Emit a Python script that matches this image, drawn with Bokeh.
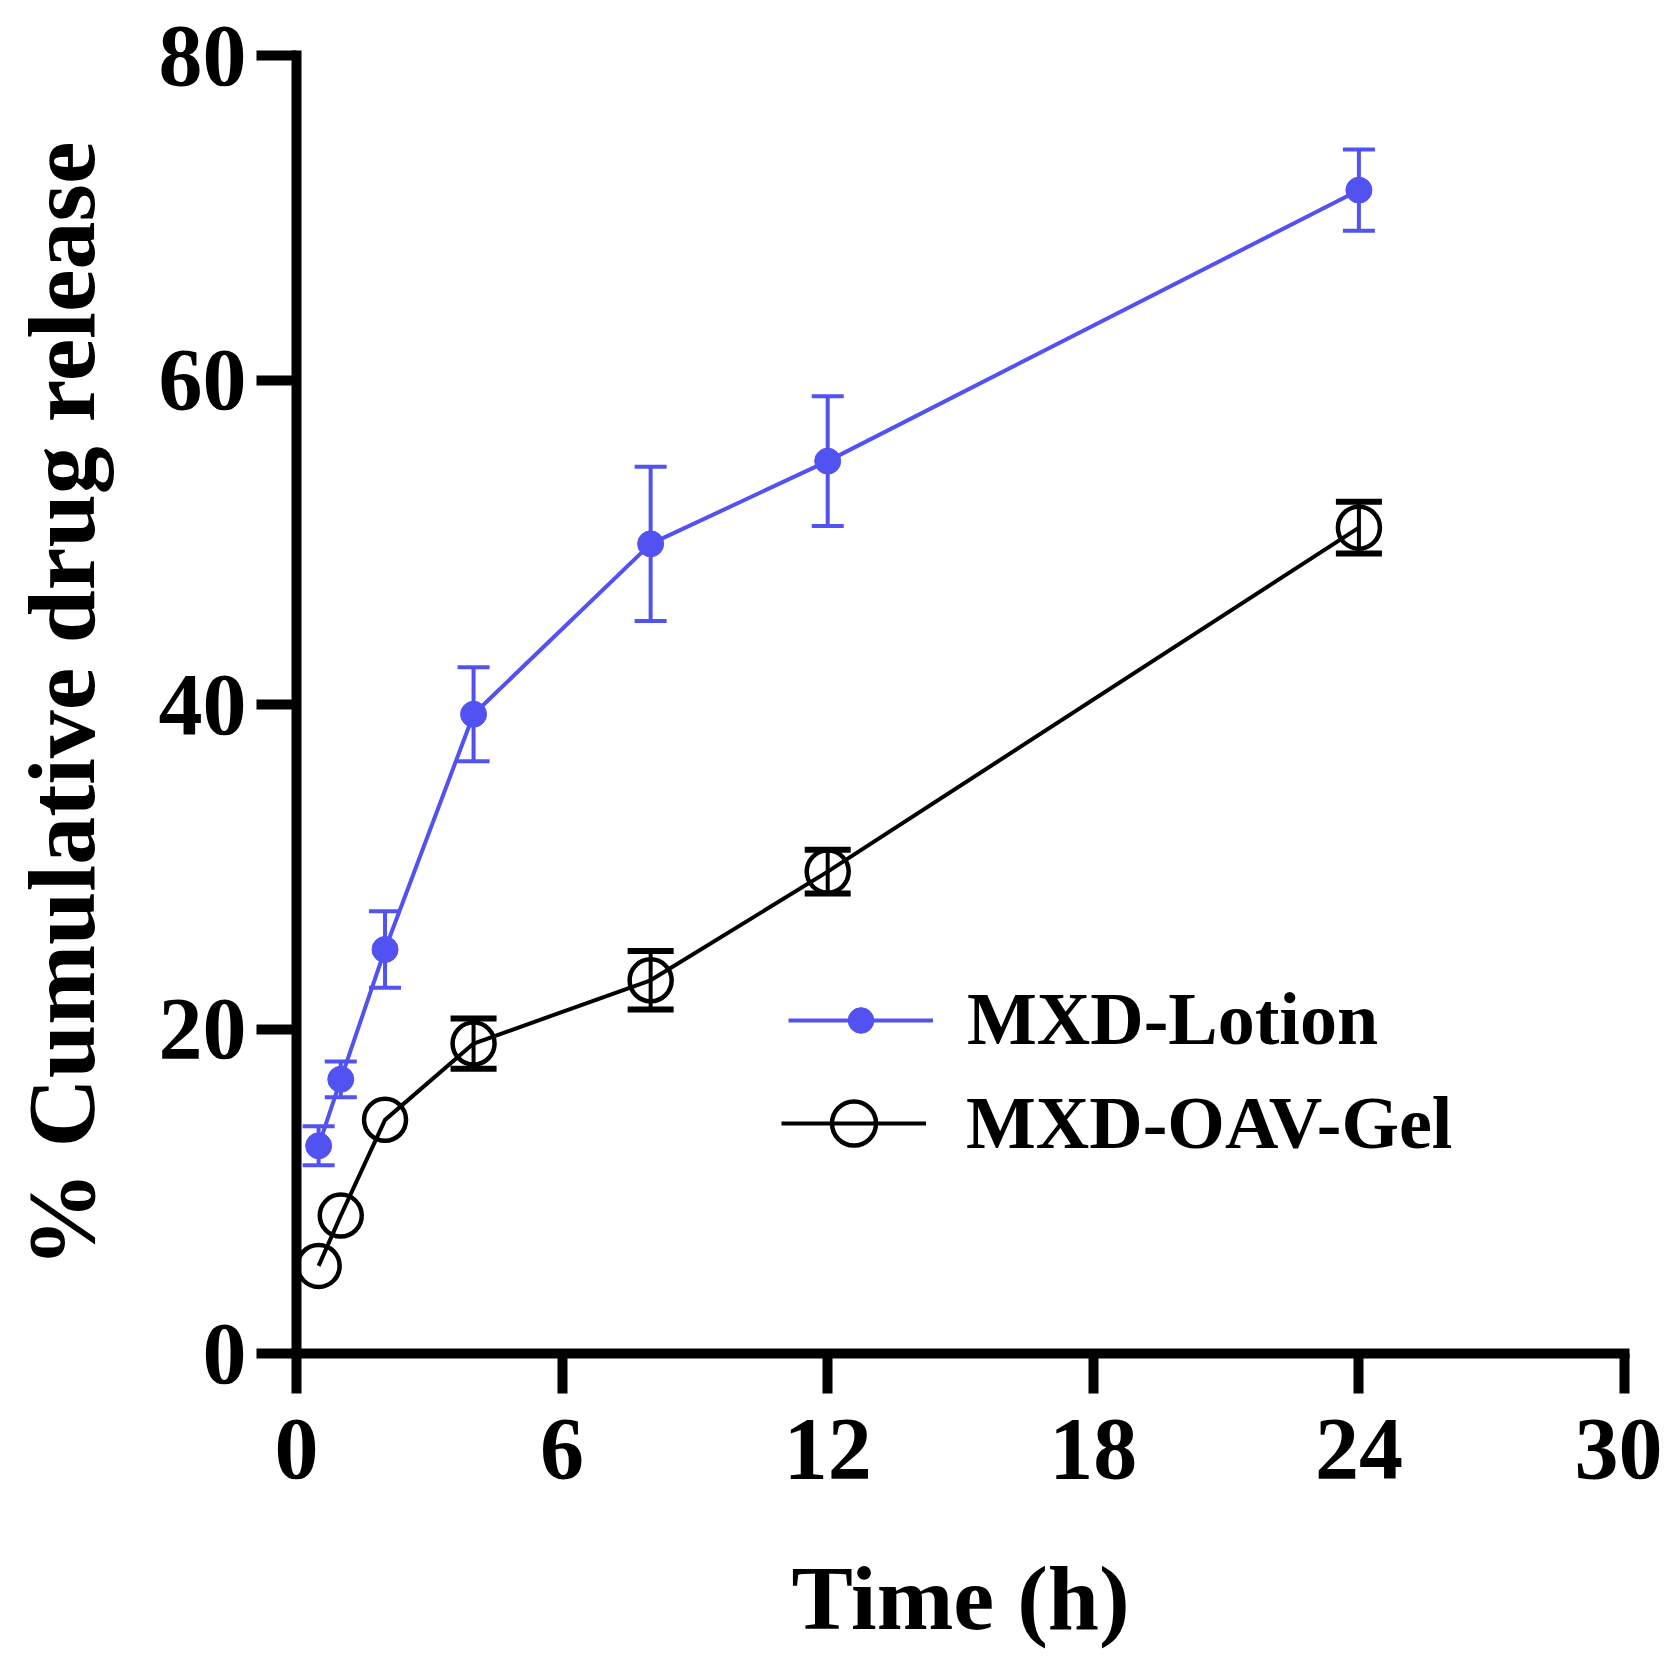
from bokeh.plotting import figure
from bokeh.models import ColumnDataSource, Whisker, TeeHead, Legend, LegendItem, FixedTicker, Range1d
from bokeh.embed import file_html
from bokeh.resources import INLINE

# ---- data ----
time_h = [0.5, 1, 2, 4, 8, 12, 24]
lotion_mean = [12.8, 16.9, 24.9, 39.4, 49.9, 55.0, 71.7]
lotion_err = [1.2, 1.1, 2.35, 2.9, 4.75, 4.0, 2.5]
gel_mean = [5.4, 8.5, 14.4, 19.1, 23.0, 29.7, 50.9]
gel_err = [0.0, 0.0, 0.0, 1.55, 1.8, 1.35, 1.6]
x_ticks = [0, 6, 12, 18, 24, 30]
y_ticks = [0, 20, 40, 60, 80]
series_names = ["MXD-Lotion", "MXD-OAV-Gel"]
x_label = "Time (h)"
y_label = "% Cumulative drug release"

BLUE = "#5252F2"
BLACK = "#000000"
FONT = "Liberation Serif"

def make_source(x, m, e, keep_zero=True):
    xs, ms, up, lo = [], [], [], []
    for a, b, c in zip(x, m, e):
        if not keep_zero and c <= 0:
            continue
        xs.append(a); ms.append(b); up.append(b + c); lo.append(b - c)
    return ColumnDataSource(dict(x=xs, y=ms, upper=up, lower=lo))

src_l = make_source(time_h, lotion_mean, lotion_err)
src_g = make_source(time_h, gel_mean, gel_err)
src_g_err = make_source(time_h, gel_mean, gel_err, keep_zero=False)

p = figure(frame_width=1328, frame_height=1298,
           min_border_left=296, min_border_top=55, min_border_right=38, min_border_bottom=280,
           x_range=Range1d(0, 30), y_range=Range1d(0, 80),
           output_backend="svg", toolbar_location=None)
p.outline_line_color = None
p.grid.visible = False
p.background_fill_color = "white"
p.border_fill_color = "white"

# lines
l_line = p.line("x", "y", source=src_l, line_color=BLUE, line_width=4)
g_line = p.line("x", "y", source=src_g, line_color=BLACK, line_width=4)

# error bars
wl = Whisker(base="x", upper="upper", lower="lower", source=src_l, dimension="height",
             line_color=BLUE, line_width=4,
             upper_head=TeeHead(size=32, line_color=BLUE, line_width=4),
             lower_head=TeeHead(size=32, line_color=BLUE, line_width=4))
wg = Whisker(base="x", upper="upper", lower="lower", source=src_g_err, dimension="height",
             line_color=BLACK, line_width=4,
             upper_head=TeeHead(size=46, line_color=BLACK, line_width=6),
             lower_head=TeeHead(size=46, line_color=BLACK, line_width=6))
p.add_layout(wl)
p.add_layout(wg)

# markers
l_pts = p.scatter("x", "y", source=src_l, marker="circle", size=26,
                  fill_color=BLUE, line_color=BLUE, line_width=1)
g_pts = p.scatter("x", "y", source=src_g, marker="circle", size=42,
                  fill_color=None, line_color=BLACK, line_width=4.5)

# axes
for ax in (p.xaxis[0], p.yaxis[0]):
    ax.axis_line_width = 10
    ax.axis_line_color = "black"
    ax.axis_line_cap = "square"
    ax.major_tick_line_width = 10
    ax.major_tick_line_color = "black"
    ax.major_tick_out = 40
    ax.major_tick_in = 0
    ax.minor_tick_line_color = None
    ax.major_label_text_font = FONT
    ax.major_label_text_font_style = "bold"
    ax.major_label_text_font_size = "88px"
    ax.major_label_text_color = "black"
    ax.axis_label_text_font = FONT
    ax.axis_label_text_font_style = "bold"
    ax.axis_label_text_color = "black"

p.xaxis[0].ticker = FixedTicker(ticks=x_ticks)
p.yaxis[0].ticker = FixedTicker(ticks=y_ticks)
p.xaxis[0].axis_label = x_label
p.yaxis[0].axis_label = y_label
p.xaxis[0].axis_label_text_font_size = "92px"
p.yaxis[0].axis_label_text_font_size = "96px"
p.xaxis[0].major_label_standoff = 26
p.yaxis[0].major_label_standoff = 10
p.xaxis[0].axis_label_standoff = 66
p.yaxis[0].axis_label_standoff = 41

# legends (one per entry so the sample markers keep their own sizes)
def add_legend(item, loc, gh, standoff):
    lg = Legend(items=[item], location=loc, orientation="vertical",
                glyph_width=145, glyph_height=gh, label_standoff=standoff,
                label_text_font=FONT, label_text_font_style="bold",
                label_text_font_size="74px", label_text_color="black",
                padding=0, margin=0, spacing=0,
                border_line_color=None, background_fill_alpha=0)
    p.add_layout(lg, "center")

add_legend(LegendItem(label=series_names[0], renderers=[l_line, l_pts]), (492, 291), 64, 34)
add_legend(LegendItem(label=series_names[1], renderers=[g_line, g_pts]), (485, 175), 110, 40)

open("out.html", "w").write(file_html(p, INLINE))
